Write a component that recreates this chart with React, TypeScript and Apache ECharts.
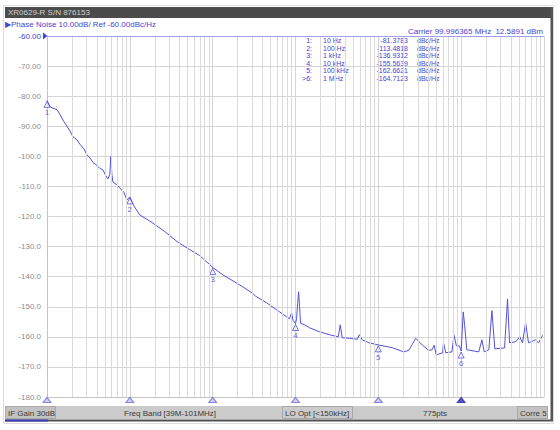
import React, { useEffect, useRef } from "react";
import * as echarts from "echarts";

// ---- data ----
const traceFreqHz = [
  10, 10.9, 11.8, 13.2, 14.3, 16, 17.4, 18.9, 20.6, 23, 25, 27.9, 30.3, 33, 35.8, 40, 43.5, 47.3,
  51.4, 54.3, 57.4, 59, 60.7, 62.4, 69.7, 75.8, 84.8, 92.2, 100, 112, 132, 174, 264, 378, 528, 698,
  1000, 1325, 2110, 3030, 3300, 4480, 6420, 8460, 8960, 9340, 10000, 10300, 10600, 10900, 11200,
  11500, 12900, 14800, 19400, 25700, 32800, 34700, 36600, 44800, 55700, 59000, 63900, 77500, 100000,
  147000, 203000, 233000, 283000, 339000, 406000, 446000, 472000, 500000, 597000, 612000, 652000,
  773000, 820000, 876000, 950000, 1000000, 1030000, 1060000, 1100000, 1170000, 1630000, 1780000,
  1900000, 2160000, 2350000, 2550000, 3340000, 3630000, 3840000, 4560000, 5100000, 5500000, 6000000,
  6500000, 7900000, 8600000, 9600000,
];
const tracePhaseNoise = [
  -81.4, -83.5, -84, -84.5, -86, -88.5, -90, -91.5, -93.5, -94.5, -96, -97.5, -99.5, -100.5, -102,
  -103, -104, -104.5, -106.5, -107.5, -106, -100, -106, -108.5, -109.5, -110.5, -112, -114.5, -113.5,
  -116.5, -119.5, -121.5, -125, -128.5, -131, -133, -136.9, -139.4, -142.7, -145.5, -146.5, -148.7,
  -151.7, -154, -152, -154.5, -155.6, -154, -149, -145, -150, -155.5, -156, -157, -158.3, -159.3,
  -160, -156, -160.3, -160.5, -160.8, -159.3, -161, -162, -162.7, -163.6, -165, -164.5, -160.5,
  -162.7, -164.5, -164.3, -162.8, -166, -165.3, -162, -165.3, -165, -159.5, -163, -163, -164.7, -158,
  -151.7, -156, -164.3, -165, -161, -165, -164.3, -151.3, -164, -163.7, -147.4, -162, -161.6, -160,
  -162, -155.3, -162, -161, -162, -159.5,
];

const markerFreqHz = [10, 100, 1000, 10000, 100000, 1000000];
const markerFreqText = ["10 Hz", "100 Hz", "1 kHz", "10 kHz", "100 kHz", "1 MHz"];
const markerValue = [-81.3783, -113.4818, -136.9312, -155.5639, -162.6621, -164.7123];
const markerIds = ["1:", "2:", "3:", "4:", "5:", ">6:"];

const yTicks = { min: -180, max: -60, step: 10 };
const xRange = { min: 10, max: 1e7 };

const titleText = "XR0629-R S/N 876153";
const subtitleText = "▶Phase Noise 10.00dB/ Ref -60.00dBc/Hz";
const carrierText = "Carrier 99.996365 MHz";
const carrierPower = "12.5891 dBm";
const statusTexts = ["IF Gain 30dB", "Freq Band [39M-101MHz]", "LO Opt [<150kHz]", "775pts", "Corre 5"];

const BLUE = "#4545d2";
const TRACE = "#5252da";
const FONT = "Liberation Sans, Arial, sans-serif";

function fmtY(v: number): string {
  return Math.abs(v) < 100 ? v.toFixed(2) : v.toFixed(1);
}

export default function App() {
  const ref = useRef<HTMLDivElement>(null);

  useEffect(() => {
    if (!ref.current) return;
    const chart = echarts.init(ref.current, undefined, { renderer: "svg" });

    const minorGrid: any[] = [];
    for (let d = xRange.min; d < xRange.max; d *= 10) {
      for (let k = 2; k <= 9; k++) minorGrid.push({ xAxis: d * k });
    }

    const rowY = [40.5, 48, 55.5, 63, 70.5, 78];
    const tableEls: any[] = [];
    markerIds.forEach((id, i) => {
      const base = { fill: BLUE, fontSize: 7, fontFamily: FONT, textVerticalAlign: "middle" };
      tableEls.push({ type: "text", x: 312, y: rowY[i], style: { ...base, text: id, textAlign: "right" } });
      tableEls.push({ type: "text", x: 323, y: rowY[i], style: { ...base, text: markerFreqText[i], textAlign: "left" } });
      tableEls.push({ type: "text", x: 408, y: rowY[i], style: { ...base, text: markerValue[i].toFixed(4), textAlign: "right" } });
      tableEls.push({ type: "text", x: 417, y: rowY[i], style: { ...base, text: "dBc/Hz", textAlign: "left" } });
    });

    const statusX = [8, 124, 285, 423, 520];
    const statusEls: any[] = statusTexts.map((t, i) => ({
      type: "text",
      x: statusX[i],
      y: 413,
      style: { text: t, fill: "#3a3a3a", fontSize: 8, fontFamily: FONT, textVerticalAlign: "middle" },
    }));

    const option: any = {
      animation: false,
      backgroundColor: "#ffffff",
      grid: { left: 47, top: 36, width: 497, height: 361, containLabel: false },
      xAxis: {
        type: "log",
        logBase: 10,
        min: xRange.min,
        max: xRange.max,
        axisLabel: { show: false },
        axisTick: { show: false },
        axisLine: { show: true, lineStyle: { color: "#c4c4c4" } },
        splitLine: { show: true, lineStyle: { color: "#d4d4d4", width: 1 } },
      },
      yAxis: {
        type: "value",
        min: yTicks.min,
        max: yTicks.max,
        interval: yTicks.step,
        axisLine: { show: true, lineStyle: { color: "#c4c4c4" } },
        axisTick: { show: false },
        splitLine: { show: true, lineStyle: { color: "#d4d4d4", width: 1 } },
        axisLabel: {
          margin: 6,
          formatter: (v: number) => (v === yTicks.max ? "{r|" + fmtY(v) + "}" : "{n|" + fmtY(v) + "}"),
          rich: {
            r: { color: BLUE, fontSize: 8, fontFamily: FONT },
            n: { color: "#8e8e8e", fontSize: 8, fontFamily: FONT },
          },
        },
      },
      series: [
        {
          type: "line",
          name: "grid",
          data: [[xRange.min, yTicks.min]],
          showSymbol: false,
          silent: true,
          z: 1,
          lineStyle: { opacity: 0 },
          markLine: {
            silent: true,
            symbol: ["none", "none"],
            label: { show: false },
            lineStyle: { color: "#dadada", type: "solid", width: 1 },
            data: [
              ...minorGrid,
              { yAxis: yTicks.max, lineStyle: { color: "#9ea2ee", type: "solid", width: 1 } },
            ],
          },
        },
        {
          type: "line",
          name: "Phase Noise",
          data: traceFreqHz.map((f, i) => [f, tracePhaseNoise[i]]),
          showSymbol: false,
          z: 3,
          lineStyle: { color: TRACE, width: 1 },
          itemStyle: { color: TRACE },
        },
        {
          type: "scatter",
          name: "markers",
          z: 4,
          clip: false,
          data: markerFreqHz.map((f, i) => [f, markerValue[i]]),
          symbol: "triangle",
          symbolSize: [6, 6],
          symbolOffset: [0, 4],
          itemStyle: { color: "rgba(255,255,255,0.6)", borderColor: TRACE, borderWidth: 1 },
          label: {
            show: true,
            position: "bottom",
            distance: 1,
            formatter: (p: any) => String(p.dataIndex + 1),
            color: BLUE,
            fontSize: 8,
            fontFamily: FONT,
          },
        },
        {
          type: "scatter",
          name: "axisMarkers",
          z: 4,
          clip: false,
          data: markerFreqHz.map((f, i) => ({
            value: [f, yTicks.min],
            itemStyle:
              i === markerFreqHz.length - 1
                ? { color: "#2a2ab8", borderColor: "#2a2ab8", borderWidth: 1 }
                : { color: "#c6c8f2", borderColor: "#6a6ad8", borderWidth: 1 },
          })),
          symbol: "triangle",
          symbolSize: [8, 5],
          symbolOffset: [0, 3],
        },
      ],
      graphic: [
        { type: "rect", shape: { x: 3.5, y: 5.5, width: 550, height: 418 }, style: { fill: "none", stroke: "#dcdcdc", lineWidth: 1 }, silent: true },
        { type: "rect", shape: { x: 5, y: 7, width: 548, height: 11 }, style: { fill: "#4b4b4b" }, silent: true },
        { type: "text", x: 8, y: 12.5, style: { text: titleText, fill: "#cfcfcf", fontSize: 8, fontFamily: FONT, textVerticalAlign: "middle" } },
        { type: "text", x: 5, y: 24, style: { text: subtitleText, fill: BLUE, fontSize: 8, fontFamily: FONT, textVerticalAlign: "middle" } },
        { type: "text", x: 408, y: 31, style: { text: carrierText, fill: BLUE, fontSize: 8, fontFamily: FONT, textVerticalAlign: "middle" } },
        { type: "text", x: 543, y: 31, style: { text: carrierPower, fill: BLUE, fontSize: 8, fontFamily: FONT, textAlign: "right", textVerticalAlign: "middle" } },
        { type: "polygon", shape: { points: [[43, 32.5], [47.5, 36], [43, 39.5]] }, style: { fill: BLUE }, silent: true },
        ...tableEls,
        { type: "rect", shape: { x: 5, y: 406, width: 543, height: 13 }, style: { fill: "#cbcbcb" }, silent: true },
        { type: "rect", shape: { x: 5.5, y: 406.5, width: 50, height: 12 }, style: { fill: "#c2c2c2", stroke: "#a8a8a8", lineWidth: 1 }, silent: true },
        { type: "rect", shape: { x: 282.5, y: 406.5, width: 70, height: 12 }, style: { fill: "none", stroke: "#a8a8a8", lineWidth: 1 }, silent: true },
        { type: "rect", shape: { x: 517.5, y: 406.5, width: 30, height: 12 }, style: { fill: "#c2c2c2", stroke: "#a8a8a8", lineWidth: 1 }, silent: true },
        ...statusEls,
        { type: "rect", shape: { x: 5, y: 419.5, width: 548, height: 2 }, style: { fill: "#505050" }, silent: true },
        { type: "rect", shape: { x: 5, y: 419.5, width: 43, height: 2 }, style: { fill: "#3a3ab8" }, silent: true },
        { type: "rect", shape: { x: 550.5, y: 7, width: 2.5, height: 414 }, style: { fill: "#555555" }, silent: true },
      ],
    };

    chart.setOption(option);
    return () => chart.dispose();
  }, []);

  return (
    <div
      ref={ref}
      style={{ position: "fixed", left: 0, top: 0, width: 560, height: 430, background: "#ffffff" }}
    />
  );
}
